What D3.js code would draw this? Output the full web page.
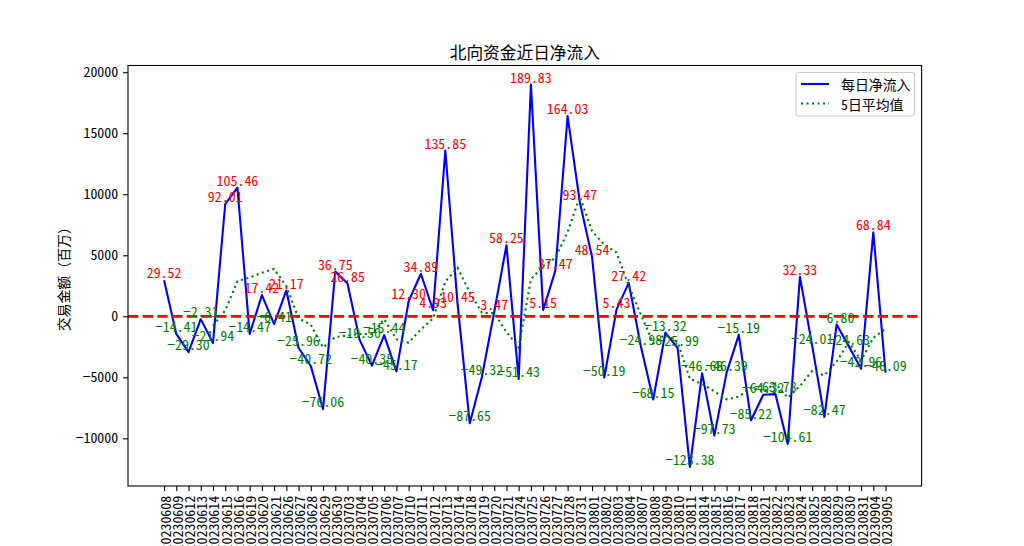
<!DOCTYPE html>
<html><head><meta charset="utf-8">
<script src="https://cdn.jsdelivr.net/npm/d3@7"></script>
<style>
html,body{margin:0;padding:0;background:#fff;}
svg{display:block;}
</style>
</head><body>
<svg id="chart" width="1024" height="546"></svg>
<script>
const dates = ["20230608","20230609","20230612","20230613","20230614","20230615","20230616","20230619","20230620","20230621",
"20230626","20230627","20230628","20230629","20230630","20230703","20230704","20230705","20230706","20230707",
"20230710","20230711","20230712","20230713","20230714","20230718","20230719","20230720","20230721","20230724",
"20230725","20230726","20230727","20230728","20230731","20230801","20230802","20230803","20230804","20230807",
"20230808","20230809","20230810","20230811","20230814","20230815","20230816","20230817","20230818","20230821",
"20230822","20230823","20230824","20230825","20230828","20230829","20230830","20230831","20230904","20230905"];

// 每日净流入 (百万)
const dailyFlow = [2952,-1441,-2930,-231,-2194,9201,10546,-1447,1742,-641,
2117,-2596,-4072,-7606,3675,2685,-1950,-4035,-1544,-4517,
1230,3489,493,13585,1045,-8765,-4932,347,5825,-5143,
18983,515,3747,16403,9347,4854,-5019,543,2742,-2498,
-6815,-1332,-2599,-12338,-4668,-9773,-4639,-1519,-8522,-6432,
-6378,-10461,3233,-2401,-8247,-680,-2463,-4296,6884,-4609];

// 5日平均值 (百万)
const avg5 = [null,null,null,null,-768.8,481.0,2878.4,3175.0,3569.6,3880.2,
2463.4,-165.0,-690.0,-2559.6,-1696.4,-1582.8,-1453.6,-1446.2,-233.8,-1872.2,
-2163.2,-1075.4,-169.8,2856.0,3968.4,1969.4,285.2,256.0,-1296.0,-2533.6,
3016.0,4105.4,4785.4,6901.0,9799.0,6973.2,5866.4,5225.6,2493.4,124.4,
-2209.4,-1472.0,-2100.4,-5116.4,-5550.4,-6142.0,-6803.4,-6587.4,-5824.2,-6177.0,
-5498.0,-6662.4,-5712.0,-4487.8,-4850.8,-3711.2,-2111.6,-3617.4,-1760.4,-1032.8];

const yTicks = [-10000,-5000,0,5000,10000,15000,20000];
const titleText = "北向资金近日净流入";
const yLabelText = "交易金额（百万）";
const legendLabels = ["每日净流入","5日平均值"];

const svg = d3.select("#chart");
const L = 128, R = 921.6, T = 65.5, B = 486;
const n = dates.length;
const FONT = "'Noto Sans Mono CJK SC','Noto Sans CJK SC',sans-serif";
const FS = 13.9;

const xPad = (n - 1) * 0.05;
const x = d3.scaleLinear().domain([-xPad, n - 1 + xPad]).range([L, R]);
const [mn, mx] = d3.extent(dailyFlow);
const yPad = (mx - mn) * 0.05;
const y = d3.scaleLinear().domain([mn - yPad, mx + yPad]).range([B, T]);

// lines
const lineDaily = d3.line().x((d, i) => x(i)).y(d => y(d));
svg.append("path").datum(dailyFlow).attr("d", lineDaily)
  .attr("fill", "none").attr("stroke", "#0000ff").attr("stroke-width", 2.1)
  .attr("stroke-linejoin", "round");

const lineAvg = d3.line().defined(d => d !== null).x((d, i) => x(i)).y(d => y(d));
svg.append("path").datum(avg5).attr("d", lineAvg)
  .attr("fill", "none").attr("stroke", "#008000").attr("stroke-width", 2.1)
  .attr("stroke-dasharray", "2.1,3.4");

// zero line
svg.append("line").attr("x1", L).attr("x2", R).attr("y1", y(0)).attr("y2", y(0))
  .attr("stroke", "#ff0000").attr("stroke-width", 2.8).attr("stroke-dasharray", "10.3,4.4");

// data labels
svg.append("g").selectAll("text").data(dailyFlow).join("text")
  .attr("x", (d, i) => x(i)).attr("y", d => y(d) - 1.8)
  .attr("text-anchor", "middle")
  .attr("font-family", FONT).attr("font-size", FS)
  .attr("fill", d => d > 0 ? "#ff0000" : "#008000")
  .text(d => (d / 100).toFixed(2).replace("-", "−"));

// axes
const xAxis = d3.axisBottom(x).tickValues(d3.range(n)).tickFormat(i => dates[i])
  .tickSizeInner(4.9).tickSizeOuter(0).tickPadding(4.9);
const gx = svg.append("g").attr("transform", `translate(0,${B})`).call(xAxis);
gx.select(".domain").remove();
gx.selectAll("line").attr("stroke", "#000").attr("stroke-width", 1.1);
gx.selectAll("text")
  .attr("font-family", FONT).attr("font-size", FS).attr("fill", "#000")
  .attr("text-anchor", "end").attr("dy", null)
  .attr("dominant-baseline", "central")
  .attr("transform", function(i){ return `translate(0,${4.9+4.9}) rotate(-90)`; })
  .attr("x", 0).attr("y", 0);

const yAxis = d3.axisLeft(y).tickValues(yTicks).tickFormat(d => String(d).replace("-", "−"))
  .tickSizeInner(4.9).tickSizeOuter(0).tickPadding(4.9);
const gy = svg.append("g").attr("transform", `translate(${L},0)`).call(yAxis);
gy.select(".domain").remove();
gy.selectAll("line").attr("stroke", "#000").attr("stroke-width", 1.1);
gy.selectAll("text").attr("font-family", FONT).attr("font-size", FS).attr("fill", "#000");

// frame
svg.append("rect").attr("x", L).attr("y", T).attr("width", R - L).attr("height", B - T)
  .attr("fill", "none").attr("stroke", "#000").attr("stroke-width", 1.1);

// title
svg.append("text").attr("x", (L + R) / 2).attr("y", 58.5).attr("text-anchor", "middle")
  .attr("font-family", FONT).attr("font-size", 16.7).attr("fill", "#000").text(titleText);

// y label
svg.append("text").attr("transform", `translate(63,${(T + B) / 2}) rotate(-90)`)
  .attr("text-anchor", "middle").attr("dominant-baseline", "central")
  .attr("font-family", FONT).attr("font-size", FS).attr("fill", "#000").text(yLabelText);

// legend
const lg = svg.append("g");
lg.append("rect").attr("x", 796).attr("y", 72.5).attr("width", 118.5).attr("height", 43.5)
  .attr("rx", 2.5).attr("fill", "#fff").attr("fill-opacity", 0.8)
  .attr("stroke", "#cccccc").attr("stroke-width", 1.1);
const legStyles = [{c:"#0000ff", dash:null}, {c:"#008000", dash:"2.1,3.4"}];
legendLabels.forEach((t, k) => {
  const yy = 84 + k * 19.5;
  lg.append("line").attr("x1", 801).attr("x2", 829).attr("y1", yy).attr("y2", yy)
    .attr("stroke", legStyles[k].c).attr("stroke-width", 2.1)
    .attr("stroke-dasharray", legStyles[k].dash);
  lg.append("text").attr("x", 841).attr("y", yy).attr("dominant-baseline", "central")
    .attr("font-family", FONT).attr("font-size", FS).attr("fill", "#000").text(t);
});
</script>
</body></html>
